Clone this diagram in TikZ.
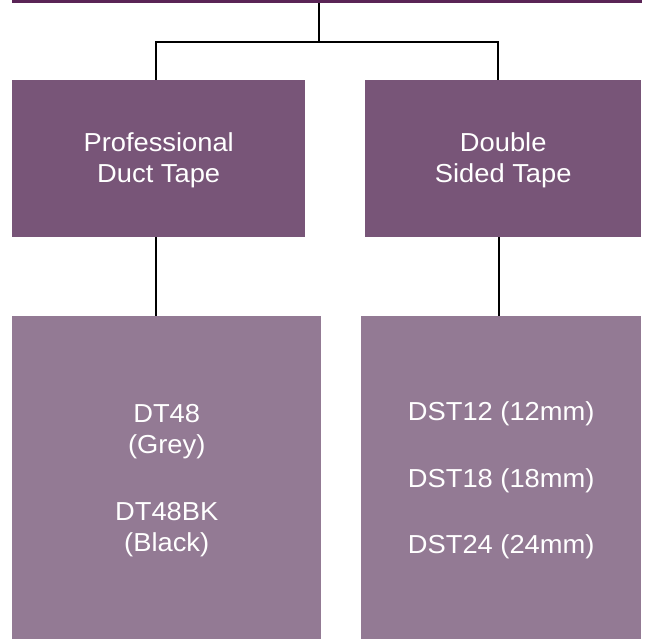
\documentclass[tikz,border=0pt]{standalone}
\usepackage{fontspec}
\setmainfont{Liberation Sans}
\usepackage{graphicx}
\usetikzlibrary{calc}
\definecolor{barc}{HTML}{5A2456}
\definecolor{topc}{HTML}{785578}
\definecolor{botc}{HTML}{937A94}
\newcommand{\sx}[1]{\scalebox{1.05}[1]{#1}}
\begin{document}
\begin{tikzpicture}[x=1pt,y=-1pt,
  boxbase/.style={draw=none,rectangle,inner sep=0pt},
  txt/.style={text=white,align=center,inner sep=0pt,
    font=\fontsize{26}{31}\selectfont},
  conn/.style={draw=black,line width=2.2pt}]
\useasboundingbox (0,0) rectangle (646,639);
\node[fill=barc,minimum width=630pt,minimum height=2.5pt,inner sep=0pt,anchor=north west] (bar) at (12,0) {};
\node[boxbase,fill=topc,minimum width=293pt,minimum height=157pt,anchor=north west] (ptl) at (12,80) {};
\node[boxbase,fill=topc,minimum width=276pt,minimum height=157pt,anchor=north west] (ptr) at (365,80) {};
\node[boxbase,fill=botc,minimum width=309pt,minimum height=323pt,anchor=north west] (pbl) at (12,316) {};
\node[boxbase,fill=botc,minimum width=280pt,minimum height=323pt,anchor=north west] (pbr) at (361,316) {};
\node[txt,yshift=-2pt] (tptl) at (ptl.center) {\sx{Professional}\\\sx{Duct Tape}};
\node[txt,yshift=-2pt] (tptr) at (ptr.center) {\sx{Double}\\\sx{Sided Tape}};
\node[txt,yshift=-3pt] (tpbl) at (pbl.center) {\sx{DT48}\\\sx{(Grey)}\\[36pt]\sx{DT48BK}\\\sx{(Black)}};
\node[txt,yshift=-3pt] (tpbr) at (pbr.center) {\sx{DST12 (12mm)}\\[35.5pt]\sx{DST18 (18mm)}\\[35.5pt]\sx{DST24 (24mm)}};
\coordinate (j) at (319,42);
\coordinate (lt) at ($(ptl.north)+(-2.5,0)$);
\coordinate (rt) at ($(ptr.north)+(-5,0)$);
\coordinate (lb) at ($(ptl.south)+(-2.5,0)$);
\coordinate (rb) at ($(ptr.south)+(-4,0)$);
\draw[conn] (j |- bar.south) -- (j);
\draw[conn] (lt) |- (j) -| (rt);
\draw[conn] (lb) -- (lb |- pbl.north);
\draw[conn] (rb) -- (rb |- pbr.north);
\end{tikzpicture}
\end{document}
